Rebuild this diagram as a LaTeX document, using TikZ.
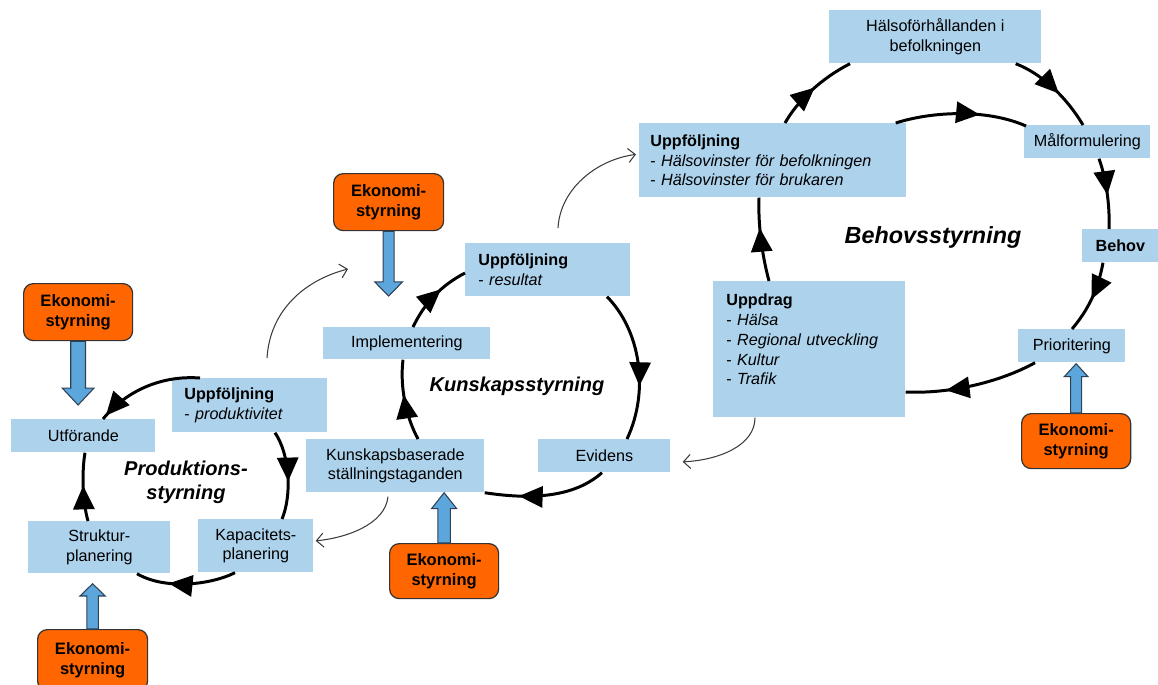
\documentclass[tikz,border=0pt]{standalone}
\usepackage{fontspec}
\setmainfont{Liberation Sans}
\usetikzlibrary{calc,arrows.meta,decorations.markings}
\definecolor{boxblue}{RGB}{173,210,236}
\definecolor{ekorange}{RGB}{255,102,0}
\definecolor{arrblue}{RGB}{92,166,220}
\definecolor{arrline}{RGB}{45,65,85}
\definecolor{thingray}{RGB}{60,60,60}
\newcommand\blockarr[5]{%
  \coordinate (bh) at ($(#2)!#5!(#1)$);
  \draw[blockarrow] ($(#1)!#3!90:(#2)$) -- ($(bh)!#3!90:(#2)$) -- ($(bh)!#4!90:(#2)$) -- (#2)
    -- ($(bh)!#4!-90:(#2)$) -- ($(bh)!#3!-90:(#2)$) -- ($(#1)!#3!-90:(#2)$) -- cycle;}
\begin{document}
\begin{tikzpicture}[x=0.02cm,y=-0.02cm,
  sz/.style 2 args={minimum width=#1*0.02cm, minimum height=#2*0.02cm},
  bbox/.style={fill=boxblue, draw=none, inner sep=0pt, anchor=north west, align=center,
    font=\fontsize{9.2}{11.3}\selectfont},
  lbox/.style n args={4}{bbox, align=left, sz={#1}{#2}, inner xsep=#3, text width=#4},
  ekon/.style={fill=ekorange, draw=black!80, line width=0.7pt, rounded corners=5.5pt,
    inner sep=0pt, anchor=north west, align=center, font=\fontsize{9.4}{11.3}\selectfont\bfseries},
  cyc/.style={line width=1.7pt, draw=black},
  midarrow/.style={postaction={decorate}, decoration={markings,
    mark=at position #1 with {\arrow{Triangle[length=13.5pt,width=12pt]}}}},
  thinarr/.style={draw=thingray, line width=0.6pt, -{Straight Barb[length=4pt,width=8pt]}},
  blockarrow/.style={fill=arrblue, draw=arrline, line width=0.6pt},
  cyclabel/.style={font=\fontsize{11.4}{13.6}\selectfont\bfseries\itshape, align=center},
]
\useasboundingbox (0,0) rectangle (1158,684);

% ---------- Behovsstyrning ----------
\node[bbox, sz={212}{53}] (hal) at (829,10) {Hälsoförhållanden i\\befolkningen};
\node[bbox, sz={126}{33}] (mal) at (1024,125) {Målformulering};
\node[bbox, sz={76}{33}, font=\fontsize{9.2}{11.3}\selectfont\bfseries] (beh) at (1082,229) {Behov};
\node[bbox, sz={107}{33}] (prio) at (1018,329) {Prioritering};
\node[lbox={267}{74}{0.22cm}{4.9cm}] (upb) at (639,123)
  {\textbf{Uppföljning}\\- \textit{Hälsovinster för befolkningen}\\- \textit{Hälsovinster för brukaren}};
\node[lbox={192}{136}{0.26cm}{3.32cm}] (upd) at (713,281)
  {\textbf{Uppdrag}\\- \textit{Hälsa}\\- \textit{Regional utveckling}\\- \textit{Kultur}\\- \textit{Trafik}\\ \mbox{}};
\node[ekon, sz={109}{55}] (ek5) at (1021,413) {Ekonomi-\\styrning};
\node[cyclabel, font=\fontsize{13.3}{15}\selectfont\bfseries\itshape] (lbeh) at (933,237) {Behovsstyrning};

% ---------- Kunskapsstyrning ----------
\node[lbox={165}{53}{0.26cm}{2.78cm}] (ur) at (465,243) {\textbf{Uppföljning}\\- \textit{resultat}};
\node[bbox, sz={167}{32}] (imp) at (323,327) {Implementering};
\node[bbox, sz={178}{53}] (kb) at (306,439) {Kunskapsbaserade\\ställningstaganden};
\node[bbox, sz={132}{33}] (ev) at (538,439) {Evidens};
\node[ekon, sz={110}{57}] (ek3) at (333,173) {Ekonomi-\\styrning};
\node[ekon, sz={109}{55}] (ek4) at (389,543) {Ekonomi-\\styrning};
\node[cyclabel] (lkun) at (517,386) {Kunskapsstyrning};

% ---------- Produktionsstyrning ----------
\node[lbox={155}{54}{0.24cm}{2.62cm}] (up) at (172,378) {\textbf{Uppföljning}\\- \textit{produktivitet}};
\node[bbox, sz={144}{33}] (utf) at (11,419) {Utförande};
\node[bbox, sz={142}{52}] (str) at (28,521) {Struktur-\\planering};
\node[bbox, sz={115}{53}] (kap) at (198,519) {Kapacitets-\\planering};
\node[ekon, sz={109}{57}] (ek1) at (23,283) {Ekonomi-\\styrning};
\node[ekon, sz={110}{61}] (ek2) at (37,629) {Ekonomi-\\styrning};
\node[cyclabel] (lprod) at (186,482) {Produktions-\\styrning};

% ---------- cycle arcs: Behovsstyrning ----------
\draw[cyc, midarrow=0.52] ($(upb.north west)+(146,0)$) .. controls (798,100) and (822,78) .. ($(hal.south west)+(21,0)$);
\draw[cyc, midarrow=0.57] ($(hal.south east)+(-26,0)$) .. controls (1040,73) and (1065,95) .. ($(mal.north west)+(59,0)$);
\draw[cyc, midarrow=0.52] ($(mal.south west)+(75,0)$) .. controls (1106,178) and (1110,205) .. ($(beh.north west)+(27,0)$);
\draw[cyc, midarrow=0.52] ($(beh.south west)+(21,0)$) .. controls (1098,290) and (1088,310) .. ($(prio.north west)+(54,0)$);
\draw[cyc, midarrow=0.7] ($(prio.south west)+(17,0)$) .. controls (1000,382) and (950,394) .. ($(upd.north east)+(0,111)$);
\draw[cyc, midarrow=0.64] ($(upd.north west)+(56,0)$) .. controls (762,255) and (758,225) .. ($(upb.south west)+(120,0)$);
\draw[cyc, midarrow=0.64] ($(upb.north east)+(-11,0)$) .. controls (930,112) and (985,108) .. ($(mal.north west)+(2,1)$);

% ---------- cycle arcs: Kunskapsstyrning ----------
\draw[cyc, midarrow=0.62] ($(imp.north west)+(90,0)$) .. controls (425,302) and (442,285) .. ($(ur.north west)+(0,30)$);
\draw[cyc, midarrow=0.64] ($(ur.south west)+(142,0)$) .. controls (640,330) and (650,390) .. ($(ev.north west)+(89,0)$);
\draw[cyc, midarrow=0.72] ($(ev.south west)+(64,0)$) .. controls (580,492) and (545,502) .. (kb.south east);
\draw[cyc, midarrow=0.57] ($(kb.north west)+(112,0)$) .. controls (405,415) and (400,385) .. ($(imp.south west)+(80,0)$);

% ---------- cycle arcs: Produktionsstyrning ----------
\draw[cyc, midarrow=0.96] ($(up.north west)+(28,0)$) .. controls (160,375) and (125,392) .. ($(utf.north west)+(92,0)$);
\draw[cyc, midarrow=0.57] ($(up.south west)+(103,0)$) .. controls (290,455) and (292,495) .. ($(kap.north west)+(84,0)$);
\draw[cyc, midarrow=0.67] ($(kap.south west)+(37,0)$) .. controls (210,585) and (165,590) .. ($(str.south west)+(109,0)$);
\draw[cyc, midarrow=0.52] ($(str.north west)+(60,0)$) .. controls (82,500) and (82,470) .. ($(utf.south west)+(74,0)$);

% ---------- thin connectors ----------
\draw[thinarr] ($(up.north west)+(95,-20)$) .. controls (270,310) and (305,280) .. ($(imp.north west)+(25,-58)$);
\draw[thinarr] ($(ur.north west)+(93,-15)$) .. controls (560,190) and (595,160) .. ($(upb.west)+(-3,-6)$);
\draw[thinarr] ($(upd.south west)+(42,0)$) .. controls (755,445) and (720,460) .. ($(ev.east)+(12,6)$);
\draw[thinarr] ($(kb.south west)+(82,4)$) .. controls (385,525) and (345,538) .. ($(kap.east)+(2,-5)$);

% ---------- block arrows from Ekonomistyrning ----------
\coordinate (t1) at ($(ek1.south |- utf.north)+(0,-14)$);
\coordinate (t2) at ($(ek2.north |- str.south)+(0,10)$);
\coordinate (t3) at ($(ek3.south |- imp.north)+(0,-31)$);
\coordinate (t4) at (ek4.north |- kb.south);
\coordinate (t5) at ($(ek5.north |- prio.south)+(0,1)$);
\blockarr{ek1.south}{t1}{4.2pt}{9pt}{9.6pt}
\blockarr{ek2.north}{t2}{3.3pt}{7.2pt}{7pt}
\blockarr{ek3.south}{t3}{3.1pt}{7.9pt}{8pt}
\blockarr{ek4.north}{t4}{3.6pt}{7.1pt}{9pt}
\blockarr{ek5.north}{t5}{3.1pt}{6.8pt}{7.4pt}
\end{tikzpicture}
\end{document}
